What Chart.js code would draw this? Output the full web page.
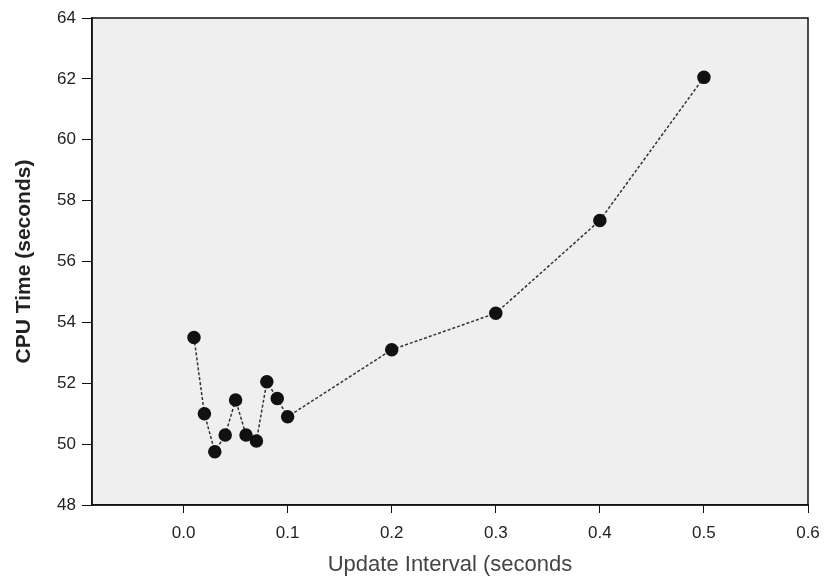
<!DOCTYPE html>
<html>
<head>
<meta charset="utf-8">
<script src="https://cdn.jsdelivr.net/npm/chart.js@4/dist/chart.umd.min.js"></script>
<style>
  html, body { margin: 0; padding: 0; background: #fff; }
  #wrap { width: 824px; height: 582px; }
</style>
</head>
<body>
<div id="wrap"><canvas id="cpu"></canvas></div>
<script>
// update interval (s) and CPU time (s)
const intervals = [0.01, 0.02, 0.03, 0.04, 0.05, 0.06, 0.07, 0.08, 0.09, 0.10, 0.2, 0.3, 0.4, 0.5];
const cpuTimes = [53.5, 51.0, 49.75, 50.3, 51.45, 50.3, 50.1, 52.05, 51.5, 50.9, 53.1, 54.3, 57.35, 62.05];
const xTicks = [0.0, 0.1, 0.2, 0.3, 0.4, 0.5, 0.6];
const yTicks = [48, 50, 52, 54, 56, 58, 60, 62, 64];

const frame = {
    id: 'frame',
    beforeDraw(chart) {
        const a = chart.chartArea, c = chart.ctx;
        c.save();
        c.fillStyle = '#efefef';
        c.fillRect(a.left, a.top, a.right - a.left, a.bottom - a.top);
        c.restore();
    },
    afterDraw(chart) {
        const a = chart.chartArea, c = chart.ctx;
        c.save();
        c.strokeStyle = '#111';
        c.lineWidth = 1.5;
        c.strokeRect(a.left, a.top, a.right - a.left, a.bottom - a.top);
        c.restore();
    }
};

new Chart(
    document.getElementById('cpu'),
    {
        type: 'scatter',
        data: {
            datasets: [{
                data: intervals.map((x, i) => ({ x: x, y: cpuTimes[i] })),
                showLine: true,
                borderColor: '#333',
                borderWidth: 1.5,
                borderDash: [3, 2],
                pointRadius: 6,
                pointBackgroundColor: '#111',
                pointBorderColor: '#111'
            }]
        },
        options: {
            responsive: true,
            maintainAspectRatio: false,
            animation: false,
            layout: { padding: { top: 18, right: 16, left: 0, bottom: 0 } },
            plugins: {
                legend: { display: false },
                tooltip: { enabled: false }
            },
            scales: {
                x: {
                    type: 'linear',
                    min: -0.088,
                    max: 0.6,
                    afterBuildTicks: s => { s.ticks = xTicks.map(v => ({ value: v })); },
                    afterFit: s => { s.height = 77; s.paddingRight = 0; s.paddingLeft = 0; },
                    grid: { drawOnChartArea: false, tickLength: 8, color: '#111' },
                    border: { color: '#111', width: 1.5 },
                    ticks: {
                        color: '#222',
                        padding: 10,
                        font: { family: 'Liberation Sans', size: 17 },
                        callback: v => v.toFixed(1)
                    },
                    title: {
                        display: true,
                        text: 'Update Interval (seconds',
                        color: '#444',
                        font: { family: 'Liberation Sans', size: 22 },
                        padding: { top: 2 }
                    }
                },
                y: {
                    min: 48,
                    max: 64,
                    afterBuildTicks: s => { s.ticks = yTicks.map(v => ({ value: v })); },
                    afterFit: s => { s.width = 92; s.paddingTop = 0; s.paddingBottom = 0; },
                    grid: { drawOnChartArea: false, tickLength: 10, color: '#111' },
                    border: { color: '#111', width: 1.5 },
                    ticks: {
                        color: '#222',
                        padding: 6,
                        font: { family: 'Liberation Sans', size: 17 }
                    },
                    title: {
                        display: true,
                        text: 'CPU Time (seconds)',
                        color: '#222',
                        font: { family: 'Liberation Sans', size: 21, weight: 'bold' },
                        padding: { top: 12, bottom: 0 }
                    }
                }
            }
        },
        plugins: [frame]
    }
);
</script>
</body>
</html>
